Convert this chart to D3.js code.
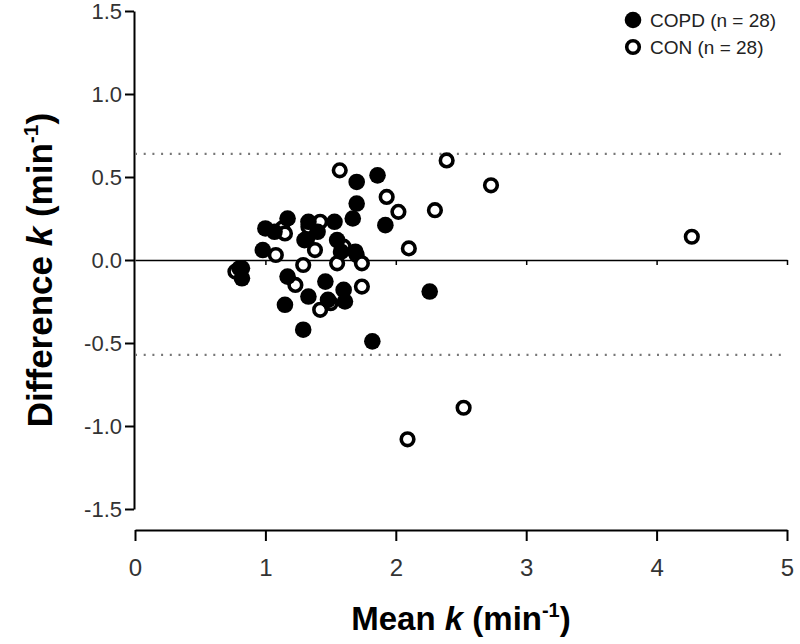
<!DOCTYPE html>
<html><head><meta charset="utf-8">
<script src="https://cdn.jsdelivr.net/npm/d3@7"></script>
<style>body{margin:0;background:#fff}</style>
</head><body>
<svg id="c" width="800" height="644"></svg>
<script>
const copdX = [0.82,0.82,0.98,1.00,1.07,1.17,1.17,1.15,1.29,1.33,1.30,1.33,1.40,1.46,1.48,1.53,1.55,1.58,1.60,1.61,1.67,1.69,1.70,1.70,1.82,1.86,1.92,2.26];
const copdY = [-0.05,-0.11,0.06,0.19,0.17,0.25,-0.10,-0.27,-0.42,-0.22,0.12,0.23,0.17,-0.13,-0.24,0.23,0.12,0.05,-0.18,-0.25,0.25,0.05,0.34,0.47,-0.49,0.51,0.21,-0.19];
const conX = [0.77,0.80,1.08,1.13,1.15,1.23,1.29,1.32,1.33,1.38,1.42,1.42,1.50,1.55,1.57,1.60,1.70,1.74,1.74,1.93,2.02,2.10,2.30,2.39,2.73,4.27,2.09,2.52];
const conY = [-0.07,-0.05,0.03,0.19,0.16,-0.15,-0.03,0.13,0.20,0.06,-0.30,0.23,-0.26,-0.02,0.54,0.08,0.03,-0.02,-0.16,0.38,0.29,0.07,0.30,0.60,0.45,0.14,-1.08,-0.89];
const limits = [0.639, -0.572];
const xTicks = [0,1,2,3,4,5];
const yTicks = [1.5,1.0,0.5,0.0,-0.5,-1.0,-1.5];
const legendLabels = ["COPD (n = 28)","CON (n = 28)"];

const svg = d3.select("#c");
const x = d3.scaleLinear().domain([0,5]).range([135,787]);
const y = d3.scaleLinear().domain([-1.5,1.5]).range([509,11]);
const fmtY = d => d3.format(".1f")(d).replace("\u2212","-");

// y axis
const ya = svg.append("g").attr("transform","translate(134,0)")
  .call(d3.axisLeft(y).tickValues(yTicks).tickFormat(fmtY).tickSize(9).tickSizeOuter(0).tickPadding(3));
ya.select(".domain").attr("stroke","#000").attr("stroke-width",2);
ya.selectAll(".tick line").attr("stroke","#000").attr("stroke-width",2);
ya.selectAll("text").attr("font-family","Liberation Sans, Arial, sans-serif").attr("font-size",22).attr("fill","#333");

// x axis (offset)
const xa = svg.append("g").attr("transform","translate(0,530)")
  .call(d3.axisBottom(x).tickValues(xTicks).tickFormat(d3.format("d")).tickSize(11).tickSizeOuter(0).tickPadding(18));
xa.select(".domain").attr("stroke","#000").attr("stroke-width",2);
xa.selectAll(".tick line").attr("stroke","#000").attr("stroke-width",2);
xa.selectAll("text").attr("font-family","Liberation Sans, Arial, sans-serif").attr("font-size",24).attr("fill","#333");

// zero line with small ticks
const za = svg.append("g").attr("transform",`translate(0,${y(0)})`)
  .call(d3.axisBottom(x).tickValues(xTicks.filter(d=>d>0)).tickSize(5).tickSizeOuter(0).tickFormat(""));
za.select(".domain").attr("stroke","#000").attr("stroke-width",1.6);
za.selectAll(".tick line").attr("stroke","#000").attr("stroke-width",1.5);

// limits of agreement
svg.selectAll(".lim").data(limits).enter().append("line")
  .attr("x1",x(0)).attr("x2",x(5)).attr("y1",d=>y(d)).attr("y2",d=>y(d))
  .attr("stroke","#777").attr("stroke-width",2.2).attr("stroke-dasharray","2,6.7");

// points
const copd = copdX.map((v,i)=>({x:v,y:copdY[i]}));
const con = conX.map((v,i)=>({x:v,y:conY[i]}));
svg.append("g").selectAll("circle").data(con).enter().append("circle")
  .attr("cx",d=>x(d.x)).attr("cy",d=>y(d.y)).attr("r",6.3)
  .attr("fill","#fff").attr("stroke","#000").attr("stroke-width",3.6);
svg.append("g").selectAll("circle").data(copd).enter().append("circle")
  .attr("cx",d=>x(d.x)).attr("cy",d=>y(d.y)).attr("r",8.3)
  .attr("fill","#000");

// legend
const lg = svg.append("g");
lg.append("circle").attr("cx",633).attr("cy",20).attr("r",8.3).attr("fill","#000");
lg.append("circle").attr("cx",633).attr("cy",47).attr("r",6.3).attr("fill","#fff").attr("stroke","#000").attr("stroke-width",3.6);
lg.selectAll("text").data(legendLabels).enter().append("text")
  .attr("x",650).attr("y",(d,i)=>27+i*27).text(d=>d)
  .attr("font-family","Liberation Sans, Arial, sans-serif").attr("font-size",19).attr("fill","#222");

// axis titles
const xt = svg.append("text").attr("x",461).attr("y",630).attr("text-anchor","middle")
  .attr("font-family","Liberation Sans, Arial, sans-serif").attr("font-size",33).attr("font-weight","bold");
xt.append("tspan").text("Mean ");
xt.append("tspan").text("k").attr("font-style","italic");
xt.append("tspan").text(" (min");
xt.append("tspan").text("-1").attr("font-size",20).attr("dy",-13);
xt.append("tspan").text(")").attr("dy",13);

const yt = svg.append("text").attr("transform","translate(52,270) rotate(-90)").attr("text-anchor","middle")
  .attr("font-family","Liberation Sans, Arial, sans-serif").attr("font-size",35).attr("font-weight","bold");
yt.append("tspan").text("Difference ");
yt.append("tspan").text("k").attr("font-style","italic");
yt.append("tspan").text(" (min");
yt.append("tspan").text("-1").attr("font-size",21).attr("dy",-14);
yt.append("tspan").text(")").attr("dy",14);
</script>
</body></html>
